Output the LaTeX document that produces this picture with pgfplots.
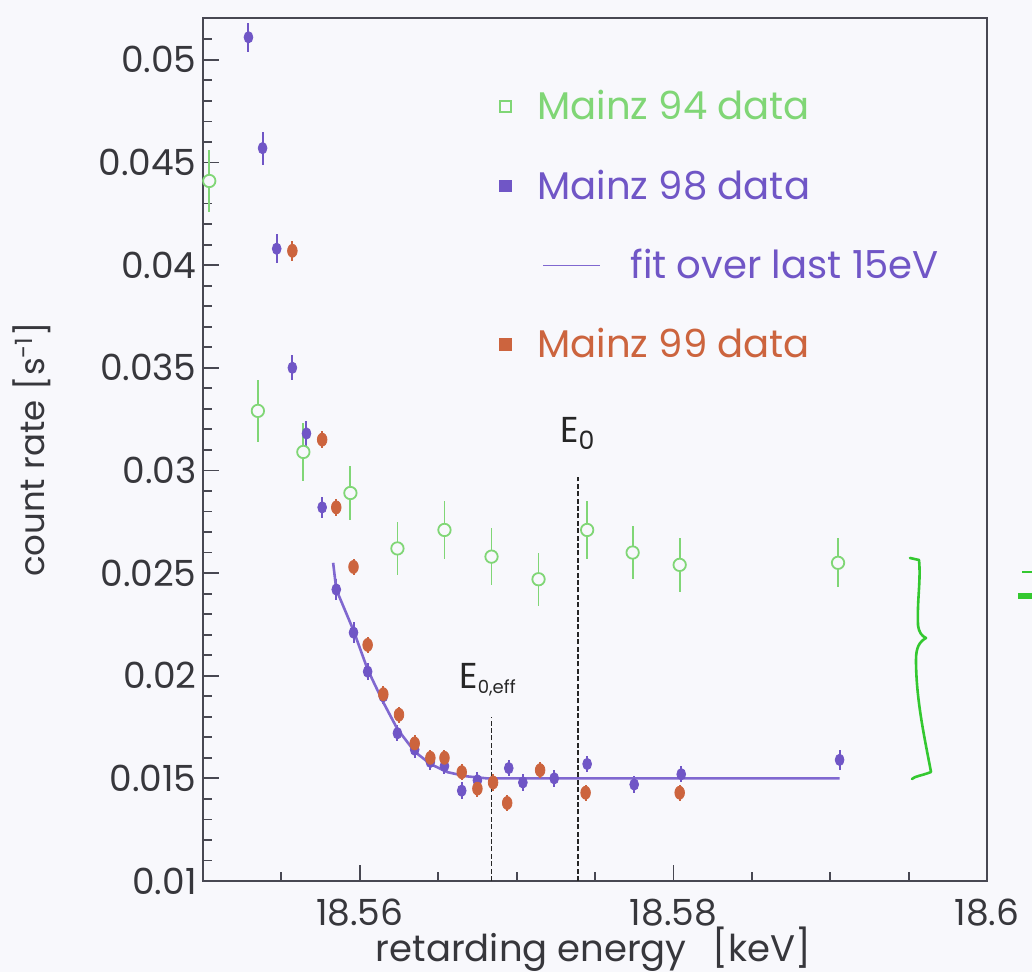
\documentclass[border=0pt]{standalone}
\usepackage{fontspec}
\setmainfont{Poppins}
\usepackage{pgfplots}
\usepackage{pgfplotstable}
\pgfplotsset{compat=1.18}

\definecolor{green94}{RGB}{128,214,118}
\definecolor{purple98}{RGB}{112,86,198}
\definecolor{fitpurple}{RGB}{128,104,208}
\definecolor{orange99}{RGB}{204,100,62}
\definecolor{bracegreen}{RGB}{52,200,48}
\definecolor{framegray}{RGB}{72,72,82}
\definecolor{labelgray}{RGB}{55,55,60}
\definecolor{paper}{RGB}{248,248,252}

% Mainz 94: retarding energy [keV], count rate [1/s], error
\pgfplotstableread{
x y e
18.5504 0.0441 0.0015
18.5535 0.0329 0.0015
18.5564 0.0309 0.0014
18.5594 0.0289 0.0013
18.5624 0.0262 0.0013
18.5654 0.0271 0.0014
18.5684 0.0258 0.0014
18.5714 0.0247 0.0013
18.5745 0.0271 0.0014
18.5774 0.0260 0.0013
18.5804 0.0254 0.0013
18.5905 0.0255 0.0012
}\mainzNinetyFour

% Mainz 98
\pgfplotstableread{
x y e
18.5529 0.0511 0.0007
18.5538 0.0457 0.0008
18.5547 0.0408 0.0007
18.5557 0.0350 0.0006
18.5566 0.0318 0.0006
18.5576 0.0282 0.0005
18.5585 0.0242 0.0005
18.5596 0.0221 0.0005
18.5605 0.0202 0.0004
18.5615 0.0190 0.0004
18.5624 0.0172 0.0004
18.5635 0.0164 0.0004
18.5645 0.0158 0.0004
18.5654 0.0156 0.0004
18.5665 0.0144 0.0004
18.5675 0.0149 0.0004
18.5695 0.0155 0.0004
18.5704 0.0148 0.0004
18.5724 0.0150 0.0004
18.5745 0.0157 0.0004
18.5775 0.0147 0.0004
18.5805 0.0152 0.0004
18.5906 0.0159 0.0005
}\mainzNinetyEight

% Mainz 99
\pgfplotstableread{
x y e
18.5557 0.0407 0.0005
18.5576 0.0315 0.0004
18.5585 0.0282 0.0004
18.5596 0.0253 0.0004
18.5605 0.0215 0.0004
18.5615 0.0191 0.0004
18.5625 0.0181 0.0004
18.5635 0.0167 0.0004
18.5645 0.0160 0.0004
18.5654 0.0160 0.0004
18.5665 0.0153 0.0004
18.5675 0.0145 0.0004
18.5685 0.0148 0.0004
18.5694 0.0138 0.0004
18.5715 0.0154 0.0004
18.5744 0.0143 0.0004
18.5804 0.0143 0.0004
}\mainzNinetyNine

% fit over the last 15 eV (Mainz 98)
\pgfplotstableread{
x y
18.5583 0.0255
18.5585 0.0242
18.5596 0.0222
18.5605 0.0203
18.5615 0.0187
18.5624 0.0174
18.5635 0.0163
18.5645 0.0157
18.5656 0.0153
18.5668 0.0151
18.5681 0.0150
18.5906 0.0150
}\fitNinetyEight

\begin{document}
\begin{tikzpicture}
% page background, in pixel units (origin top left)
\begin{scope}[x=0.5pt,y=-0.5pt,shift={(-101.5pt,440.5pt)}]
  \fill[paper] (0,0) rectangle (1032,972);
\end{scope}

\begin{axis}[
  scale only axis, width=392pt, height=431.5pt,
  xmin=18.55, xmax=18.6, ymin=0.01, ymax=0.05204,
  xtick={18.56,18.58,18.6}, xticklabels={18.56,18.58,18.6},
  minor xtick={18.555,18.565,18.57,18.575,18.585,18.59,18.595},
  ytick={0.01,0.015,0.02,0.025,0.03,0.035,0.04,0.045,0.05},
  yticklabels={0.01,0.015,0.02,0.025,0.03,0.035,0.04,0.045,0.05},
  minor ytick={0.011,0.012,0.013,0.014,0.016,0.017,0.018,0.019,0.021,0.022,0.023,0.024,0.026,0.027,0.028,0.029,0.031,0.032,0.033,0.034,0.036,0.037,0.038,0.039,0.041,0.042,0.043,0.044,0.046,0.047,0.048,0.049,0.051},
  tick align=inside, xtick pos=bottom, ytick pos=left,
  major tick length=8pt, minor tick length=4.5pt,
  tick style={framegray, line width=0.9pt},
  axis line style={framegray, line width=1.2pt},
  tick label style={font=\fontsize{18}{20}\selectfont, text=labelgray},
  yticklabel style={inner sep=3pt},
  xticklabel style={inner sep=0pt, yshift=-9pt},
  xlabel={retarding energy\hspace{0.7em}[keV]},
  ylabel={count rate\hspace{0.3em}[s\textsuperscript{-1}]},
  every axis x label/.style={at={(axis description cs:0.498,-0.0790)}, anchor=center,
    font=\fontsize{18.5}{20}\selectfont, text=labelgray},
  every axis y label/.style={at={(axis description cs:-0.218,0.5)}, anchor=center, rotate=90,
    font=\fontsize{17}{20}\selectfont, text=labelgray},
  legend style={draw=none, fill=none, inner sep=0pt, at={(0.375,0.9166)}, anchor=north west,
    font=\fontsize{19.3}{20}\selectfont, row sep=23.5pt, column sep=12pt,
    nodes={inner sep=0pt, anchor=west}},
  legend cell align=left,
]
% legend keys
\addlegendimage{legend image code/.code={\path[draw=none,fill=none] (-4pt,-4pt) rectangle (4pt,4pt);
  \draw[green94, line width=0.9pt, fill=none] (-2.6pt,-2.6pt) rectangle (2.6pt,2.6pt);}}
\addlegendentry{\textcolor{green94}{Mainz 94 data}}
\addlegendimage{legend image code/.code={\path[draw=none,fill=none] (-4pt,-4pt) rectangle (4pt,4pt);
  \fill[purple98] (-3.2pt,-2.6pt) rectangle (3.2pt,2.6pt);}}
\addlegendentry{\textcolor{purple98}{Mainz 98 data}}
\addlegendimage{legend image code/.code={\path[draw=none,fill=none] (-4pt,-4pt) rectangle (4pt,4pt);
  \draw[fitpurple, line width=0.8pt, overlay] (19pt,0pt) -- (47.5pt,0pt);}}
\addlegendentry{\hspace*{46.5pt}\textcolor{purple98}{fit over last 15eV}}
\addlegendimage{legend image code/.code={\path[draw=none,fill=none] (-4pt,-4pt) rectangle (4pt,4pt);
  \fill[orange99] (-3pt,-3pt) rectangle (3pt,3pt);}}
\addlegendentry{\textcolor{orange99}{Mainz 99 data}}

% Mainz 94
\addplot[forget plot, only marks, green94, line width=0.9pt,
  mark=*, mark size=3.1pt, mark options={fill=paper, draw=green94},
  error bars/.cd, y dir=both, y explicit, error mark=none,
  error bar style={green94, line width=0.9pt}]
  table[x=x, y=y, y error=e] {\mainzNinetyFour};

% Mainz 98
\addplot[forget plot, only marks, purple98,
  mark=*, mark size=2.2pt, mark options={yscale=1.3},
  error bars/.cd, y dir=both, y explicit, error mark=none,
  error bar style={purple98, line width=1pt}]
  table[x=x, y=y, y error=e] {\mainzNinetyEight};

% fit
\addplot[forget plot, fitpurple, line width=1.3pt, line join=round] table[x=x, y=y] {\fitNinetyEight};

% Mainz 99
\addplot[forget plot, only marks, orange99,
  mark=*, mark size=2.4pt, mark options={yscale=1.35},
  error bars/.cd, y dir=both, y explicit, error mark=none,
  error bar style={orange99, line width=1pt}]
  table[x=x, y=y, y error=e] {\mainzNinetyNine};

% endpoint markers
\addplot[forget plot, black!85, line width=0.9pt, dash pattern=on 2.5pt off 1.2pt]
  coordinates {(18.5684,0.01) (18.5684,0.0180)};
\addplot[forget plot, black!85, line width=0.9pt, dash pattern=on 2.5pt off 1.2pt]
  coordinates {(18.5739,0.01) (18.5739,0.0297)};
\node[font=\fontsize{18}{20}\selectfont, text=black!85] at (axis cs:18.5739,0.0318) {E\textsubscript{0}};
\node[font=\fontsize{18}{20}\selectfont, text=black!85, anchor=west] at (axis cs:18.5659,0.0198) {E\textsubscript{\small 0,eff}};
\end{axis}

% annotations in pixel units (origin top left)
\begin{scope}[x=0.5pt,y=-0.5pt,shift={(-101.5pt,440.5pt)}]
  \draw[bracegreen, line width=1.3pt, line join=round, line cap=round]
    (910,558) -- (919,560)
    .. controls (921,580) and (917,600) .. (918,625)
    .. controls (919,633) and (922,636) .. (926,638)
    .. controls (919,642) and (916,648) .. (916,660)
    .. controls (916,700) and (925,740) .. (931,772)
    .. controls (921,776) and (915,776) .. (912,779);
  \draw[bracegreen, line width=3pt] (1018,596) -- (1032,596);
  \draw[bracegreen, line width=1pt] (1022,572) -- (1032,572);
  \pgfresetboundingbox
  \path[use as bounding box] (0,0) rectangle (1032,972);
\end{scope}
\end{tikzpicture}
\end{document}
